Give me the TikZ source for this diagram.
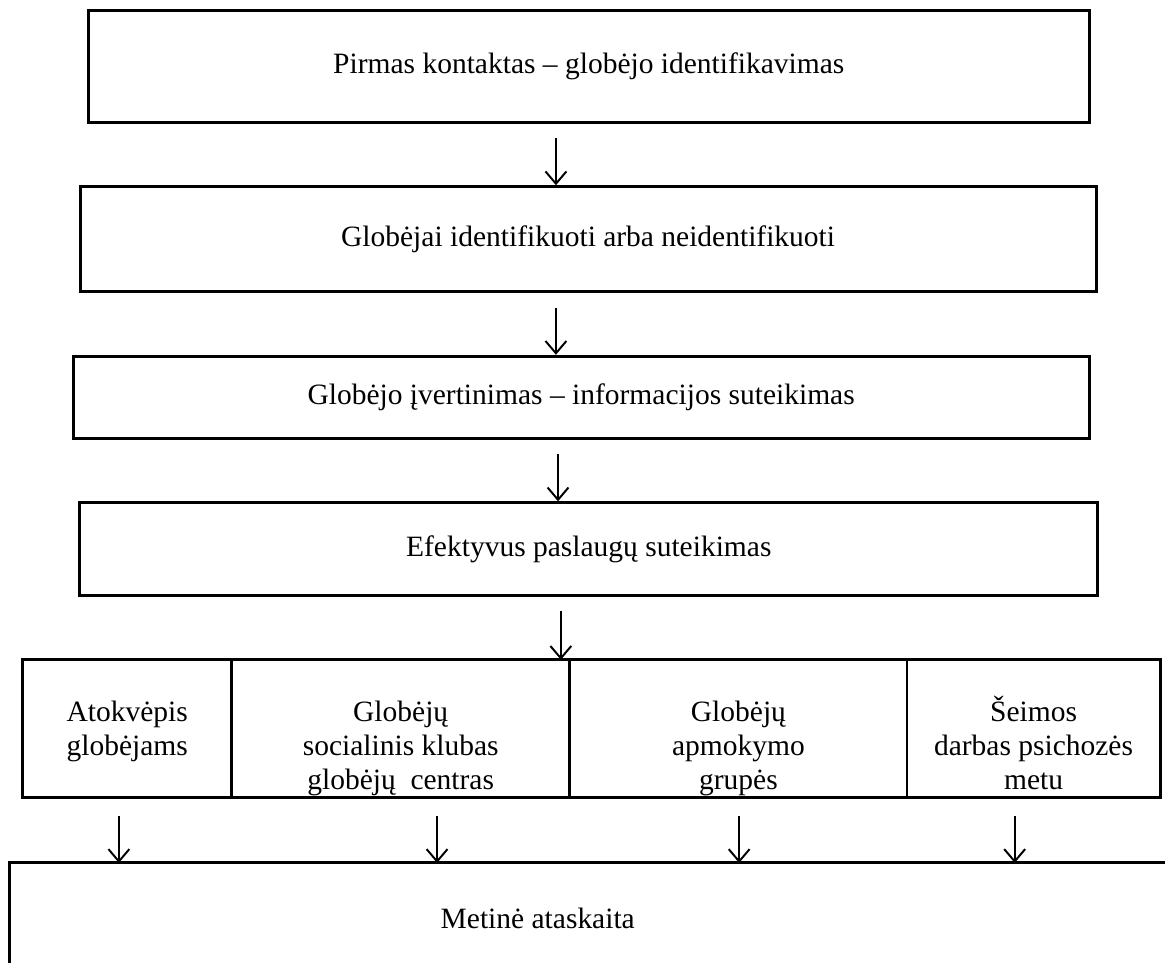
\documentclass[tikz,border=0pt]{standalone}
\usepackage{fontspec}
\setmainfont{Liberation Serif}
\usetikzlibrary{arrows.meta,positioning,calc}

\newcommand{\firstline}{\rule{0pt}{11pt}}
\tikzset{
  box/.style={draw,line width=1.2pt,align=center,inner sep=0pt},
  cell/.style={draw,line width=1.2pt,minimum height=1.97cm,inner sep=0pt},
  celltext/.style={anchor=north,align=center,inner sep=0pt,yshift=-0.515cm},
  arr/.style={->,line width=0.8pt}
}

\begin{document}
\begin{tikzpicture}[>={Straight Barb[length=5pt,width=8.5pt]},font=\fontsize{12}{13.8}\selectfont]
\clip (0,0) rectangle (16.66,-13.76);
% steps
\node[box,minimum width=14.31cm,minimum height=1.59cm] (first) at (8.42,-0.95) {Pirmas kontaktas – globėjo identifikavimas};
\node[box,minimum width=14.53cm,minimum height=1.50cm] (ident) at (8.41,-3.42) {Globėjai identifikuoti arba neidentifikuoti};
\node[box,minimum width=14.53cm,minimum height=1.17cm] (assess) at (8.31,-5.68) {Globėjo įvertinimas – informacijos suteikimas};
\node[box,minimum width=14.56cm,minimum height=1.32cm] (serv) at (8.42,-7.85) {Efektyvus paslaugų suteikimas};
\draw[arr] ([yshift=-0.21cm]7.95,0 |- first.south) -- (7.95,0 |- ident.north);
\draw[arr] ([yshift=-0.21cm]7.95,0 |- ident.south) -- (7.95,0 |- assess.north);
\draw[arr] ([yshift=-0.21cm]7.98,0 |- assess.south) -- (7.98,0 |- serv.north);
\draw[arr] ([yshift=-0.21cm]8.02,0 |- serv.south) -- (8.02,0 |- 0,-9.435);

% services row
\node[cell,minimum width=2.99cm] (resp) at (1.82,-10.42) {};
\node[cell,minimum width=4.83cm] (club) at (5.73,-10.42) {};
\node[cell,minimum width=4.82cm] (train) at (10.56,-10.42) {};
\node[cell,minimum width=3.62cm] (fam) at (14.78,-10.42) {};
\node[celltext] at (resp.north) {\firstline Atokvėpis\\globėjams};
\node[celltext] at (club.north) {\firstline Globėjų\\socialinis klubas\\globėjų~ centras};
\node[celltext] at (train.north) {\firstline Globėjų\\apmokymo\\grupės};
\node[celltext] at (fam.north) {\firstline Šeimos\\darbas psichozės\\metu};

% report
\coordinate (reptop) at (0.13,-12.34);
\draw[line width=1.2pt] (reptop) rectangle (17,-14.5);
\node (rep) at (7.69,-13.13) {Metinė ataskaita};
\draw[arr] ([yshift=-0.24cm]1.70,0 |- resp.south) -- (1.70,0 |- reptop);
\draw[arr] ([yshift=-0.24cm]6.25,0 |- club.south) -- (6.25,0 |- reptop);
\draw[arr] ([yshift=-0.24cm]10.57,0 |- train.south) -- (10.57,0 |- reptop);
\draw[arr] ([yshift=-0.24cm]14.51,0 |- fam.south) -- (14.51,0 |- reptop);
\end{tikzpicture}
\end{document}
